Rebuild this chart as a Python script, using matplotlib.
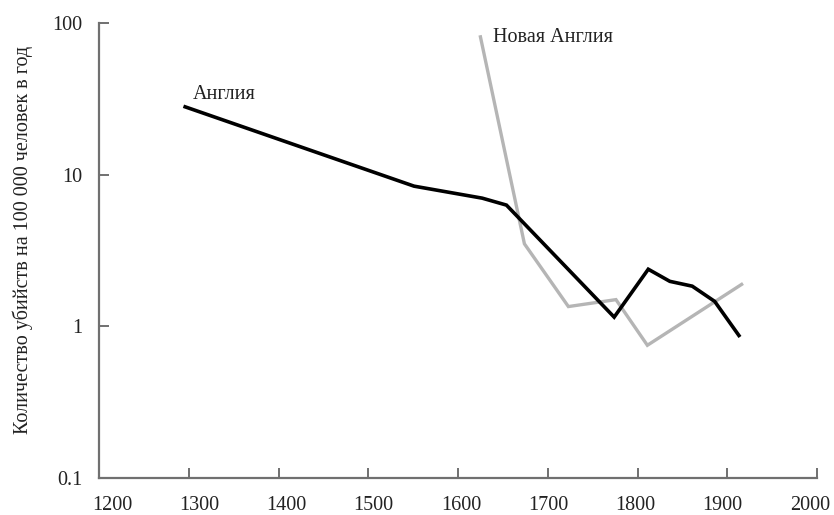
import matplotlib.pyplot as plt
import matplotlib.transforms as mtransforms

# England homicide rate (per 100 000 per year)
england_years = [1296, 1551, 1627, 1654, 1774, 1812, 1836, 1861, 1886, 1913]
england_rates = [28, 8.4, 7.0, 6.3, 1.15, 2.38, 1.98, 1.84, 1.46, 0.87]

# New England homicide rate
ne_years = [1625, 1674, 1723, 1776, 1811, 1916]
ne_rates = [81, 3.5, 1.35, 1.5, 0.75, 1.89]

x_ticks = [1200, 1300, 1400, 1500, 1600, 1700, 1800, 1900, 2000]
y_ticks = [0.1, 1, 10, 100]
y_tick_labels = ["0.1", "1", "10", "100"]

plt.rcParams["font.family"] = ["Liberation Serif", "DejaVu Serif"]

fig = plt.figure(figsize=(8.34, 5.15), dpi=100)
ax = fig.add_axes([99 / 834, 37 / 515, 718 / 834, 455 / 515])

ax.plot(ne_years, ne_rates, color="#b5b5b5", lw=2.4, solid_joinstyle="miter")
ax.plot(england_years, england_rates, color="black", lw=2.6, solid_joinstyle="miter")

ax.set_yscale("log")
ax.set_xlim(1200, 2000)
ax.set_ylim(0.1, 100)
ax.set_xticks(x_ticks)
ax.set_xticklabels([str(t) for t in x_ticks])
ax.set_yticks(y_ticks)
ax.set_yticklabels(y_tick_labels)
ax.minorticks_off()

for s in ["top", "right"]:
    ax.spines[s].set_visible(False)
for s in ["left", "bottom"]:
    ax.spines[s].set_color("#707070")
    ax.spines[s].set_linewidth(1.6)

ax.tick_params(axis="x", direction="in", length=7, width=1.4, color="#707070",
               labelsize=14.5, pad=13, labelcolor="#222222")
ax.tick_params(axis="y", direction="in", length=7, width=1.4, color="#707070",
               labelsize=14.5, pad=12, labelcolor="#222222")

# in the source the year labels are spaced slightly tighter than the ticks
n = len(x_ticks) - 1
for i, lbl in enumerate(ax.get_xticklabels()):
    dx = 13 - 20 * i / n
    lbl.set_transform(lbl.get_transform() +
                      mtransforms.ScaledTranslation(dx / 100, 0, fig.dpi_scale_trans))

ax.set_ylabel("Количество убийств на 100 000 человек в год", fontsize=14.5,
              color="#222222")
ax.yaxis.set_label_coords(-0.092, 0.523)

ax.text(1304, 34, "Англия", fontsize=14.5, color="#222222", va="center")
ax.text(1639, 80, "Новая Англия", fontsize=14.5, color="#222222", va="center")

fig.savefig("out.png", dpi=100)
